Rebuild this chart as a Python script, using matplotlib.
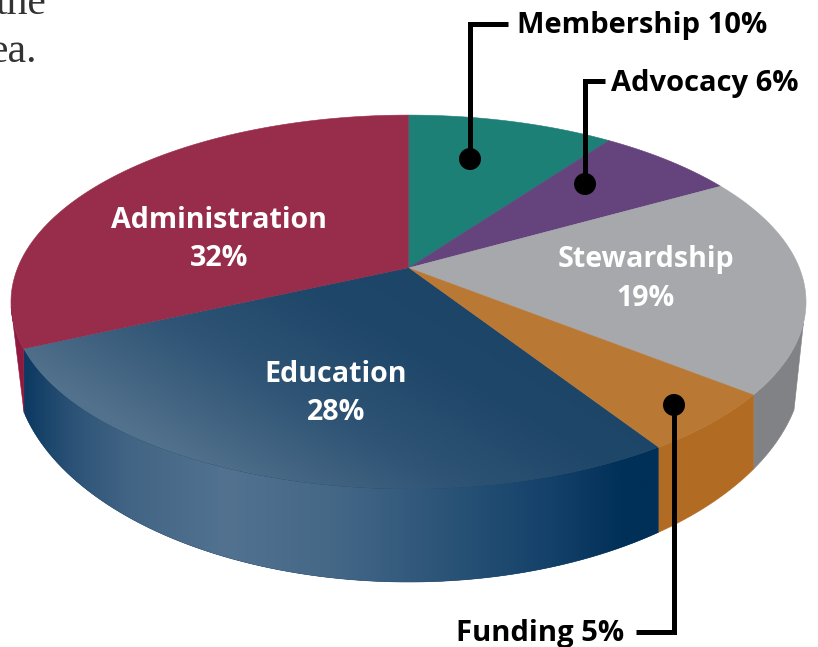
"""Perspective 3D pie of programme spending, drawn in pixel coordinates."""

import matplotlib

matplotlib.use("Agg")
import matplotlib.pyplot as plt
import numpy as np
from matplotlib.colors import LinearSegmentedColormap
from matplotlib.patches import Circle, Polygon

# Slices run clockwise from twelve o'clock.
categories = ["Membership", "Advocacy", "Stewardship", "Funding", "Education", "Administration"]
labelled_percent = [10, 6, 19, 5, 28, 32]
# Slice sizes as actually drawn in the picture (they differ a little from the labels).
drawn_percent = [10, 6.8, 18.9, 5.2, 27.3, 31.8]
top_colors = ["#1c8076", "#65437c", "#a7a8ab", "#b97834", "#1c4567", "#982d4b"]
wall_colors = ["#1c8076", "#65437c", "#808285", "#b26b22", "#0d3a62", "#8f1a3f"]

# Perspective of the top face
CX, CY = 408.5, 268
RIM_A, RIM_B, RIM_K = 390.9, 132.0, 0.1818
# Bottom rim ellipse
BOT_CY, BOT_RX, BOT_RY = 362, 395, 220
# Where the wall silhouette leaves the top rim, in percent round the pie
WALL_START, WALL_END = 29.7, 71.7
WALL_RIGHT_X, WALL_LEFT_X = 794, 24

EDU_WALL_STOPS = [
    (25, "#0d3a62"), (70, "#2b5276"), (130, "#436585"), (225, "#527290"),
    (330, "#456887"), (450, "#2a5377"), (560, "#123f68"), (625, "#002f58"), (660, "#002f58"),
]


def rim(percent):
    """Project a position round the pie (percent) on to the top face rim."""
    angle = np.radians(np.asarray(percent, dtype=float) * 3.6)
    u, v = np.sin(angle), -np.cos(angle)
    denom = 1 - RIM_K * v
    return CX + RIM_A * u / denom, (CY + RIM_B * v) / denom


def bottom_y(x):
    return BOT_CY + BOT_RY * np.sqrt(np.clip(1 - ((x - CX) / BOT_RX) ** 2, 0, 1))


def slice_polygon(start, end):
    xs, ys = rim(np.linspace(start, end, 80))
    return np.column_stack([np.r_[CX, xs], np.r_[CY, ys]])


def wall_polygon(start, end):
    """Side wall under the top rim between two percent positions."""
    xs, ys = rim(np.linspace(start, end, 80))
    low_x = np.clip(xs, WALL_LEFT_X, WALL_RIGHT_X)
    top = np.column_stack([xs, ys])
    bottom = np.column_stack([low_x, bottom_y(low_x)])[::-1]
    return np.vstack([top, bottom])


def main():
    fig = plt.figure(figsize=(8.18, 6.47), dpi=100)
    ax = fig.add_axes([0, 0, 1, 1])
    ax.set_xlim(0, 818)
    ax.set_ylim(647, 0)
    ax.axis("off")

    bounds = np.r_[0, np.cumsum(drawn_percent)]

    # walls first, the top face overlaps their upper edge
    for i, name in enumerate(categories):
        start, end = max(bounds[i], WALL_START), min(bounds[i + 1], WALL_END)
        if start >= end:
            continue
        patch = Polygon(wall_polygon(start, end), closed=True, fc=wall_colors[i],
                        ec=wall_colors[i], lw=0.4, zorder=1)
        ax.add_patch(patch)
        if name == "Education":
            # solid patch stays underneath so the gradient leaves no white seam
            positions = [(x - 25) / 635 for x, _ in EDU_WALL_STOPS]
            cmap = LinearSegmentedColormap.from_list(
                "edu_wall", list(zip(positions, [c for _, c in EDU_WALL_STOPS]))
            )
            gradient = np.linspace(0, 1, 512)[None, :]
            im = ax.imshow(gradient, cmap=cmap, extent=(25, 660, 590, 340),
                           aspect="auto", zorder=1.2)
            im.set_clip_path(patch)

    for i, name in enumerate(categories):
        patch = Polygon(slice_polygon(bounds[i], bounds[i + 1]), closed=True,
                        fc=top_colors[i], ec=top_colors[i], lw=0.4, zorder=2)
        ax.add_patch(patch)
        if name == "Education":
            patch.set_edgecolor("none")
            grid_x, grid_y = np.meshgrid(np.linspace(0, 700, 350), np.linspace(260, 500, 240))
            shade = ((grid_x - CX) * -0.5 + (grid_y - CY) * 0.85) / 276
            cmap = LinearSegmentedColormap.from_list(
                "edu_top", [(0, "#1c4567"), (0.25, "#1f4769"), (0.6, "#2f5475"), (1, "#52718c")]
            )
            im = ax.imshow(np.clip(shade, 0, 1), cmap=cmap, extent=(0, 700, 500, 260),
                           aspect="auto", zorder=2.2)
            im.set_clip_path(patch)

    ax.set_xlim(0, 818)
    ax.set_ylim(647, 0)

    font = {"family": "Open Sans", "fontweight": "bold"}
    inside = {"Stewardship": (646, 259), "Education": (336, 374), "Administration": (219, 220)}
    for name, pct in zip(categories, labelled_percent):
        if name in inside:
            x, y = inside[name]
            ax.text(x, y, name, color="white", fontsize=20.6, ha="center", va="center",
                    zorder=5, **font)
            ax.text(x, y + 39, f"{pct}%", color="white", fontsize=20.6, ha="center", va="center",
                    zorder=5, **font)

    callouts = {
        "Membership": {"text": (517, 26), "line": [(508, 24), (470, 24), (470, 159)], "dot": (470, 159)},
        "Advocacy": {"text": (611, 83), "line": [(605, 81), (585, 81), (585, 184)], "dot": (585, 184)},
        "Funding": {"text": (456, 633), "line": [(636, 632), (674, 632), (674, 405)], "dot": (674, 405)},
    }
    for name, pct in zip(categories, labelled_percent):
        if name not in callouts:
            continue
        spec = callouts[name]
        ax.text(*spec["text"], f"{name} {pct}%", color="black", fontsize=21, ha="left",
                va="center", zorder=6, **font)
        line_x, line_y = zip(*spec["line"])
        ax.plot(line_x, line_y, color="black", lw=3.6, solid_joinstyle="miter",
                solid_capstyle="butt", zorder=6)
        ax.add_patch(Circle(spec["dot"], 11, fc="black", ec="none", zorder=7))

    # remains of the article text cropped by the picture's edge
    ax.text(47, 14, "the", family="Liberation Serif", fontsize=30, color="#333333", ha="right",
            va="baseline", clip_on=False)
    ax.text(37, 62, "ea.", family="Liberation Serif", fontsize=30, color="#333333", ha="right",
            va="baseline", clip_on=False)

    fig.savefig("out.png", dpi=100, facecolor="white")


if __name__ == "__main__":
    main()
